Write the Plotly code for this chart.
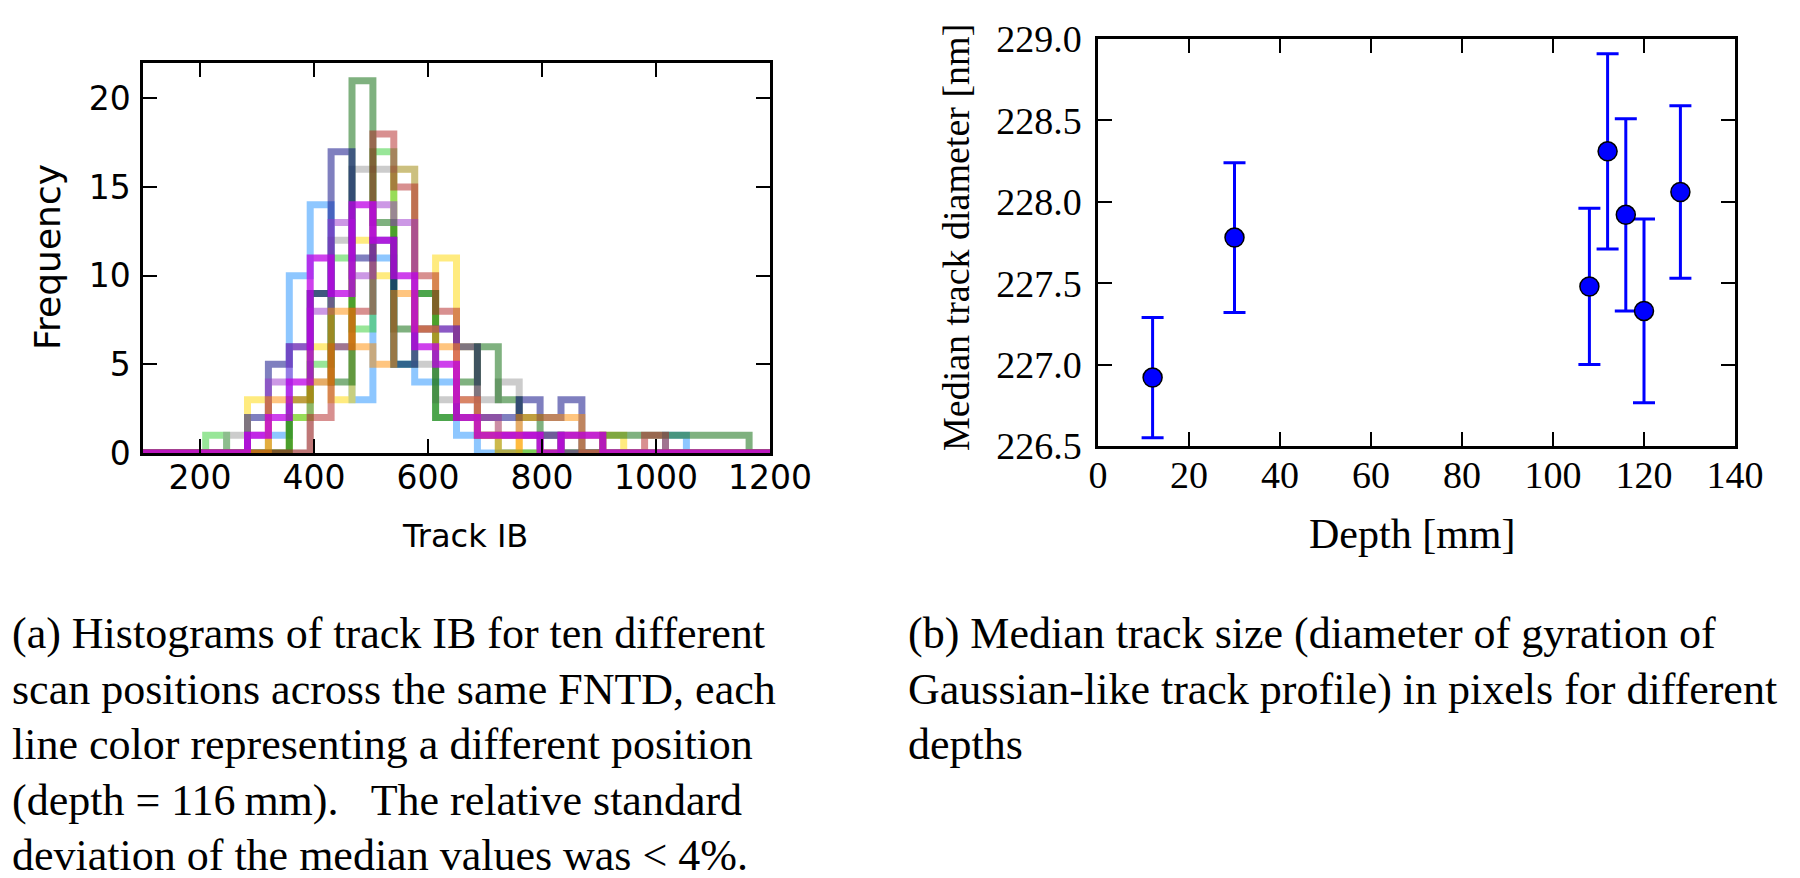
import numpy as np
import plotly.graph_objects as go

W, H = 1800, 878

# ---------------- data: histograms (counts per bin, shared bins 100..1200, 30 bins)
bin_start, bin_stop, n_bins = 100, 1200, 30
blue    = [0,0,0,0,0,0,1,10,14,6,3,11,5,4,4,1,0,0,0,1,0,0,0,0,0,1,0,0,0,0]
gold    = [0,0,0,0,0,3,0,2,6,3,12,10,16,7,11,6,2,1,0,0,0,0,1,0,0,0,0,0,0,0]
lime    = [0,0,0,1,0,0,0,2,5,11,7,17,5,9,2,2,1,0,0,0,0,0,0,0,0,0,0,0,0,0]
grey    = [0,0,0,0,1,0,0,0,4,12,16,16,16,5,3,3,3,4,1,1,1,0,0,0,0,0,0,0,0,0]
green   = [0,0,0,0,0,0,0,3,9,4,21,13,7,9,2,4,6,3,2,1,0,0,1,1,1,1,1,1,1,0]
red     = [0,0,0,0,0,0,0,0,2,6,8,18,15,10,8,2,1,1,1,0,1,1,0,0,1,0,0,0,0,0]
navy    = [0,0,0,0,0,2,5,6,9,17,11,12,5,7,7,6,2,2,3,2,3,0,0,0,0,0,0,0,0,0]
orchid  = [0,0,0,0,0,1,4,6,8,13,10,14,13,7,7,3,2,1,1,1,0,0,0,0,0,0,0,0,0,0]
orange  = [0,0,0,0,0,0,3,3,4,8,6,5,9,7,6,3,1,0,2,2,2,0,0,0,0,0,0,0,0,0]
magenta = [0,0,0,0,0,1,2,4,11,9,14,12,10,6,5,2,1,1,1,0,1,1,0,0,0,0,0,0,0,0]

hist_series = [
    ("blue", blue, "rgba(30,144,255,0.5)"),
    ("gold", gold, "rgba(255,215,0,0.5)"),
    ("lime", lime, "rgba(50,205,50,0.5)"),
    ("grey", grey, "rgba(128,128,128,0.4)"),
    ("green", green, "rgba(0,100,0,0.5)"),
    ("red", red, "rgba(178,34,34,0.5)"),
    ("navy", navy, "rgba(0,0,128,0.5)"),
    ("orchid", orchid, "rgba(153,50,204,0.5)"),
    ("orange", orange, "rgba(255,140,0,0.5)"),
    ("magenta", magenta, "rgba(190,0,230,0.75)"),
]
hist_xticks = [200, 400, 600, 800, 1000, 1200]
hist_yticks = [0, 5, 10, 15, 20]

# ---------------- data: median track diameter vs depth
depth = [12, 30, 108, 112, 116, 120, 128]
diameter = [226.92, 227.78, 227.48, 228.31, 227.92, 227.33, 228.06]
diameter_err = [0.37, 0.46, 0.48, 0.60, 0.59, 0.565, 0.53]
sc_xticks = [0, 20, 40, 60, 80, 100, 120, 140]
sc_yticks = [226.5, 227.0, 227.5, 228.0, 228.5, 229.0]

edges = np.linspace(bin_start, bin_stop, n_bins + 1)

fig = go.Figure()
for name, counts, col in hist_series:
    xs, ys = [edges[0]], [0]
    for i, c in enumerate(counts):
        xs += [edges[i], edges[i + 1]]
        ys += [c, c]
    xs.append(edges[-1]); ys.append(0)
    fig.add_trace(go.Scatter(x=xs, y=ys, mode="lines", name=name,
                             line=dict(color=col, width=7), showlegend=False,
                             xaxis="x", yaxis="y", hoverinfo="skip"))

fig.add_trace(go.Scatter(
    x=depth, y=diameter, mode="markers", xaxis="x2", yaxis="y2", showlegend=False,
    marker=dict(size=19, color="#0000ff", line=dict(color="black", width=1.5)),
    error_y=dict(type="data", array=diameter_err, visible=True, color="#0000ff",
                 thickness=3, width=11)))

def px_x(p):
    return p / W

def px_y(p):
    return 1 - p / H

sans = "DejaVu Sans"
serif = "Liberation Serif"

axis_common = dict(showgrid=False, zeroline=False, showline=True, linecolor="black",
                   linewidth=2.5, mirror="ticks", ticks="inside", ticklen=14,
                   tickwidth=2, tickcolor="black", automargin=False)

fig.update_layout(
    width=W, height=H, margin=dict(l=0, r=0, t=0, b=0, pad=0, autoexpand=False),
    paper_bgcolor="white", plot_bgcolor="white",
    xaxis=dict(domain=[px_x(143), px_x(770)], anchor="y", range=[100, 1200],
               tickvals=hist_xticks, tickfont=dict(family=sans, size=33, color="black"),
               ticklabelstandoff=-6, **axis_common),
    yaxis=dict(domain=[px_y(453), px_y(63)], anchor="x", range=[0, 22],
               tickvals=hist_yticks, tickfont=dict(family=sans, size=33, color="black"),
               ticklabelstandoff=3, **axis_common),
    xaxis2=dict(domain=[px_x(1098), px_x(1735)], anchor="y2", range=[0, 140],
                tickvals=sc_xticks, tickfont=dict(family=serif, size=38, color="black"),
                ticklabelstandoff=-6, **axis_common),
    yaxis2=dict(domain=[px_y(446), px_y(39)], anchor="x2", range=[226.5, 229.0],
                tickvals=sc_yticks, tickformat=".1f",
                tickfont=dict(family=serif, size=38, color="black"),
                ticklabelstandoff=6, **axis_common),
)

ann = []
ann.append(dict(text="Track IB", x=px_x(465), y=px_y(536), xref="paper", yref="paper",
                showarrow=False, font=dict(family=sans, size=32, color="black"),
                xanchor="center", yanchor="middle"))
ann.append(dict(text="Frequency", x=px_x(47), y=px_y(257), xref="paper", yref="paper",
                showarrow=False, textangle=-90, font=dict(family=sans, size=36, color="black"),
                xanchor="center", yanchor="middle"))
ann.append(dict(text="Depth [mm]", x=px_x(1412), y=px_y(534), xref="paper", yref="paper",
                showarrow=False, font=dict(family=serif, size=42, color="black"),
                xanchor="center", yanchor="middle"))
ann.append(dict(text="Median track diameter [nm]", x=px_x(956), y=px_y(238), xref="paper",
                yref="paper", showarrow=False, textangle=-90,
                font=dict(family=serif, size=38, color="black"),
                xanchor="center", yanchor="middle"))

cap_a = ["(a) Histograms of track IB for ten different",
         "scan positions across the same FNTD, each",
         "line color representing a different position",
         "(depth = 116\u2009mm).   The relative standard",
         "deviation of the median values was < 4%."]
cap_b = ["(b) Median track size (diameter of gyration of",
         "Gaussian-like track profile) in pixels for different",
         "depths"]
line_y = [633, 689, 744, 800, 855]
for i, t in enumerate(cap_a):
    ann.append(dict(text=t, x=px_x(10), y=px_y(line_y[i]), xref="paper", yref="paper",
                    showarrow=False, font=dict(family=serif, size=44, color="black"),
                    xanchor="left", yanchor="middle"))
for i, t in enumerate(cap_b):
    ann.append(dict(text=t, x=px_x(906), y=px_y(line_y[i]), xref="paper", yref="paper",
                    showarrow=False, font=dict(family=serif, size=44, color="black"),
                    xanchor="left", yanchor="middle"))
fig.update_layout(annotations=ann)

fig.write_html("out.html", config={"displayModeBar": False},
               post_script="document.body.style.margin='0px';")
